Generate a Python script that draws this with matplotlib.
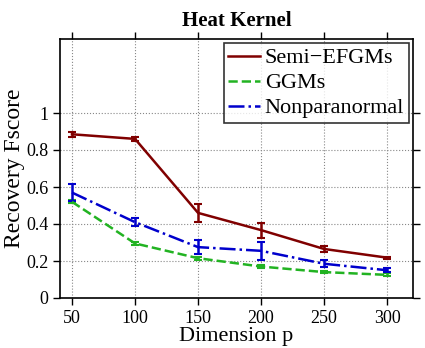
import matplotlib
matplotlib.use('Agg')
import matplotlib.pyplot as plt

# data
dims = [50, 100, 150, 200, 250, 300]

semi = [0.885, 0.86, 0.46, 0.367, 0.265, 0.218]
semi_err = [0.015, 0.012, 0.05, 0.04, 0.015, 0.006]

ggm = [0.52, 0.295, 0.215, 0.17, 0.14, 0.125]
ggm_err = [0.008, 0.01, 0.008, 0.006, 0.006, 0.008]

npn = [0.57, 0.41, 0.275, 0.255, 0.185, 0.15]
npn_err = [0.047, 0.02, 0.037, 0.05, 0.02, 0.012]

names = ['Semi\u2212EFGMs', 'GGMs', 'Nonparanormal']
xticks = [50, 100, 150, 200, 250, 300]
yticks = [0, 0.2, 0.4, 0.6, 0.8, 1]

plt.rcParams['font.family'] = 'Liberation Serif'

fig = plt.figure(figsize=(4.25, 3.48), dpi=100)
ax = fig.add_axes([60/425, 50/348, 353/425, 259/348])

kw = dict(lw=1.8, capsize=3, capthick=1.5, elinewidth=1.8)
e1 = ax.errorbar(dims, semi, yerr=semi_err, color='#800000', ls='-', **kw)
e2 = ax.errorbar(dims, ggm, yerr=ggm_err, color='#22b322', ls='--', **kw)
e3 = ax.errorbar(dims, npn, yerr=npn_err, color='#0000cc', ls='-.', **kw)

ax.set_xlim(40.5, 320.5)
ax.set_ylim(0, 1.4)
ax.set_xticks(xticks)
ax.set_yticks(yticks)
ax.set_yticklabels(['0', '0.2', '0.4', '0.6', '0.8', '1'])
ax.tick_params(direction='out', top=True, right=True, labelsize=13, length=5, width=1)
ax.grid(True, ls=':', color='#888888', lw=0.8)
for s in ax.spines.values():
    s.set_linewidth(1.2)

ax.set_title('Heat Kernel', fontsize=15, fontweight='bold', pad=9)
ax.set_xlabel('Dimension p', fontsize=16, labelpad=0)
ax.set_ylabel('Recovery Fscore', fontsize=17, labelpad=0.5)

leg = ax.legend([e1.lines[0], e2.lines[0], e3.lines[0]], names,
                loc='upper right', fontsize=16, frameon=True, fancybox=False,
                edgecolor='black', handlelength=1.45, handletextpad=0.2,
                borderpad=0.2, labelspacing=0.2, borderaxespad=0.2)
leg.get_frame().set_linewidth(1.2)

fig.savefig('out.png', dpi=100)
